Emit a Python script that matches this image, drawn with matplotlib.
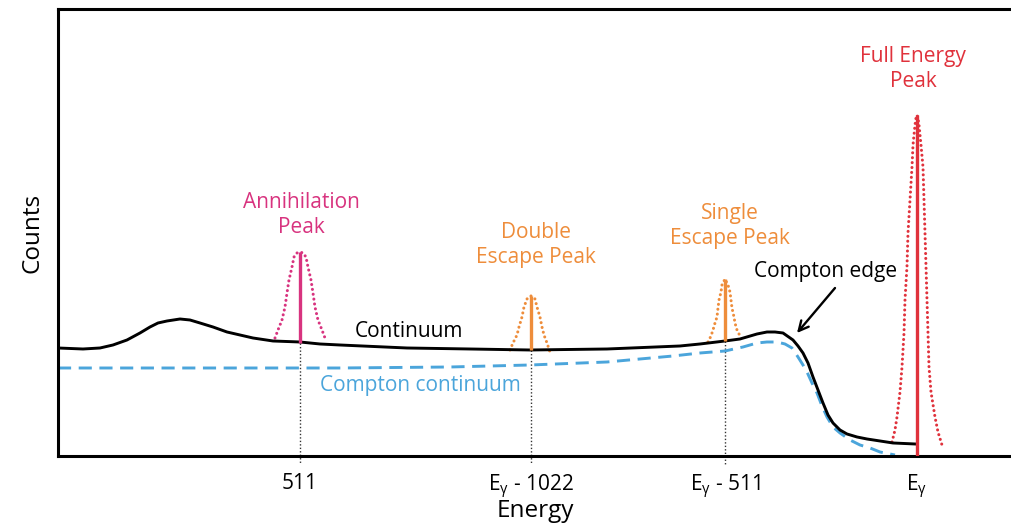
#!/usr/bin/env python3
"""Schematic gamma-ray spectrum showing the main spectral features."""

import matplotlib

matplotlib.use("Agg")
import matplotlib.pyplot as plt

plt.rcParams["font.family"] = ["Open Sans", "DejaVu Sans"]
plt.rcParams["mathtext.fontset"] = "custom"
plt.rcParams["mathtext.rm"] = "Open Sans"
plt.rcParams["mathtext.it"] = "Open Sans"
plt.rcParams["mathtext.bf"] = "Open Sans:bold"

# Energy axis in arbitrary channel units, counts in arbitrary units.
CONT_E = [0, 25, 42, 55, 69, 82, 92, 100, 109, 122, 132, 142, 155, 169, 182,
          195, 215, 242, 262, 282, 349, 412, 472, 549, 622, 642, 667, 682, 699,
          709, 717, 725, 735, 740, 745, 750, 755, 760, 765, 770, 775, 782, 789,
          799, 809, 822, 835, 857]
CONT_C = [108, 107, 108, 111, 116, 123, 129, 133, 135, 137, 136, 133, 129, 124,
          121, 118, 115, 114, 112, 111, 108, 107, 106, 107, 110, 112, 115, 117,
          122, 124, 124, 123, 116, 110, 103, 93, 79, 66, 53, 41, 33, 26, 22, 19,
          17, 15, 13, 12]

COMPTON_E = [0, 142, 282, 392, 472, 549, 615, 642, 667, 685, 699, 709, 719,
             727, 734, 740, 745, 749, 754, 759, 764, 769, 775, 782, 792, 802,
             812, 822, 837]
COMPTON_C = [88, 88, 88, 89, 91, 94, 100, 103, 105, 109, 113, 114, 114, 112,
             108, 99, 91, 84, 73, 63, 50, 39, 29, 23, 16, 11, 8, 4, 1]

# Peak positions, the base and top of each centroid line.
PEAK_NAMES = ["Annihilation\nPeak", "Double\nEscape Peak",
              "Single\nEscape Peak", "Full Energy\nPeak"]
PEAK_E = [242, 473, 667, 859]
PEAK_BASE = [113, 106, 115, 0]
PEAK_TOP = [204, 160, 177, 341]

# Outline of each peak, left edge -> top -> right edge.
ANN_E = [217, 220, 224, 227, 229, 231, 234, 236, 239, 242, 245, 248, 250,
         253, 255, 257, 260, 264, 267]
ANN_C = [118, 126, 136, 149, 163, 176, 189, 199, 203, 204, 203, 199, 189,
         176, 163, 149, 136, 126, 118]
DOUBLE_E = [452, 455, 459, 461, 464, 466, 469, 471, 473, 475, 477, 479, 482,
            484, 486, 489, 492]
DOUBLE_C = [106, 113, 121, 129, 139, 149, 157, 159, 160, 159, 157, 149, 139,
            129, 121, 113, 104]
SINGLE_E = [650, 653, 655, 657, 659, 660, 661, 663, 664, 666, 667, 668, 670,
            672, 673, 674, 676, 677, 679, 681, 684]
SINGLE_C = [114, 120, 126, 133, 139, 148, 156, 164, 171, 175, 177, 175, 171,
            164, 156, 148, 139, 133, 126, 122, 119]
FULL_E = [834, 837, 839, 842, 844, 846, 847, 849, 850, 852, 854, 855, 857, 858,
          859, 860, 861, 863, 865, 866, 867, 868, 869, 870, 871, 873, 877, 880, 884]
FULL_C = [14, 26, 39, 64, 89, 123, 156, 190, 223, 256, 289, 311, 331, 338,
          341, 338, 331, 311, 289, 256, 223, 190, 156, 123, 89, 64, 39, 24, 11]

TICK_E = [242, 473, 667, 859]
TICK_LABELS = ["511", r"E$_{\gamma}$ - 1022", r"E$_{\gamma}$ - 511", r"E$_{\gamma}$"]

PINK = "#d8337f"
ORANGE = "#ee8d3b"
RED = "#e0323c"
BLUE = "#4ba5db"
PEAK_COLORS = [PINK, ORANGE, ORANGE, RED]
DOTS = (0, (0.01, 1.6))


def main() -> None:
  fig = plt.figure(figsize=(10.12, 5.24), dpi=100)
  ax = fig.add_axes([0.0573, 0.1298, 0.9427, 0.853])
  ax.set_xlim(0, 954)
  ax.set_ylim(0, 447)

  for side in ["left", "top", "bottom"]:
    ax.spines[side].set_linewidth(2.2)
  ax.spines["right"].set_visible(False)

  # Continuum and Compton continuum
  ax.plot(CONT_E, CONT_C, color="black", linewidth=2.1, solid_joinstyle="round", zorder=3)
  ax.plot(COMPTON_E, COMPTON_C, color=BLUE, linewidth=2.1, dashes=(4.5, 2.6),
          dash_joinstyle="round", zorder=2)

  # Peak outlines and their centroid lines
  outlines = [(ANN_E, ANN_C), (DOUBLE_E, DOUBLE_C), (SINGLE_E, SINGLE_C), (FULL_E, FULL_C)]
  for (xs, ys), color in zip(outlines, PEAK_COLORS):
    ax.plot(xs, ys, color=color, linewidth=2.2, linestyle=DOTS,
            dash_capstyle="round", zorder=2)
  for e, base, top, color in zip(PEAK_E, PEAK_BASE, PEAK_TOP, PEAK_COLORS):
    ax.vlines(e, base, top, color=color, linewidth=2.4, zorder=4)

  # Guide lines from the first three peaks down past the axis
  for e, base in zip(PEAK_E[:3], PEAK_BASE[:3]):
    ax.plot([e, e], [base, -8], color="#333333", linewidth=1.0,
            linestyle=(0, (1, 1.5)), clip_on=False, zorder=1)

  # Peak labels
  label_pos = [(243, 241), (478, 211), (672, 230), (855, 387)]
  for name, (x, y), color in zip(PEAK_NAMES, label_pos, PEAK_COLORS):
    ax.text(x, y, name, color=color, fontsize=15, ha="center", va="center",
            linespacing=1.2)

  ax.text(351, 124, "Continuum", fontsize=15, ha="center", va="center")
  ax.text(362, 70, "Compton continuum", color=BLUE, fontsize=15,
          ha="center", va="center")
  ax.text(768, 184, "Compton edge", fontsize=15, ha="center", va="center")
  ax.annotate("", xy=(739, 123), xytext=(777, 168),
              arrowprops=dict(arrowstyle="->,head_length=0.7,head_width=0.35",
                              color="black", linewidth=1.7, shrinkA=0, shrinkB=0))

  ax.set_xticks(TICK_E)
  ax.set_xticklabels(TICK_LABELS, fontsize=15)
  ax.tick_params(axis="x", length=0, pad=12)
  ax.set_yticks([])
  ax.set_xlabel("Energy", fontsize=17.5, labelpad=-1)
  ax.set_ylabel("Counts", fontsize=17.5, labelpad=10)

  fig.savefig("out.png", dpi=100)
  plt.close(fig)


if __name__ == "__main__":
  main()
